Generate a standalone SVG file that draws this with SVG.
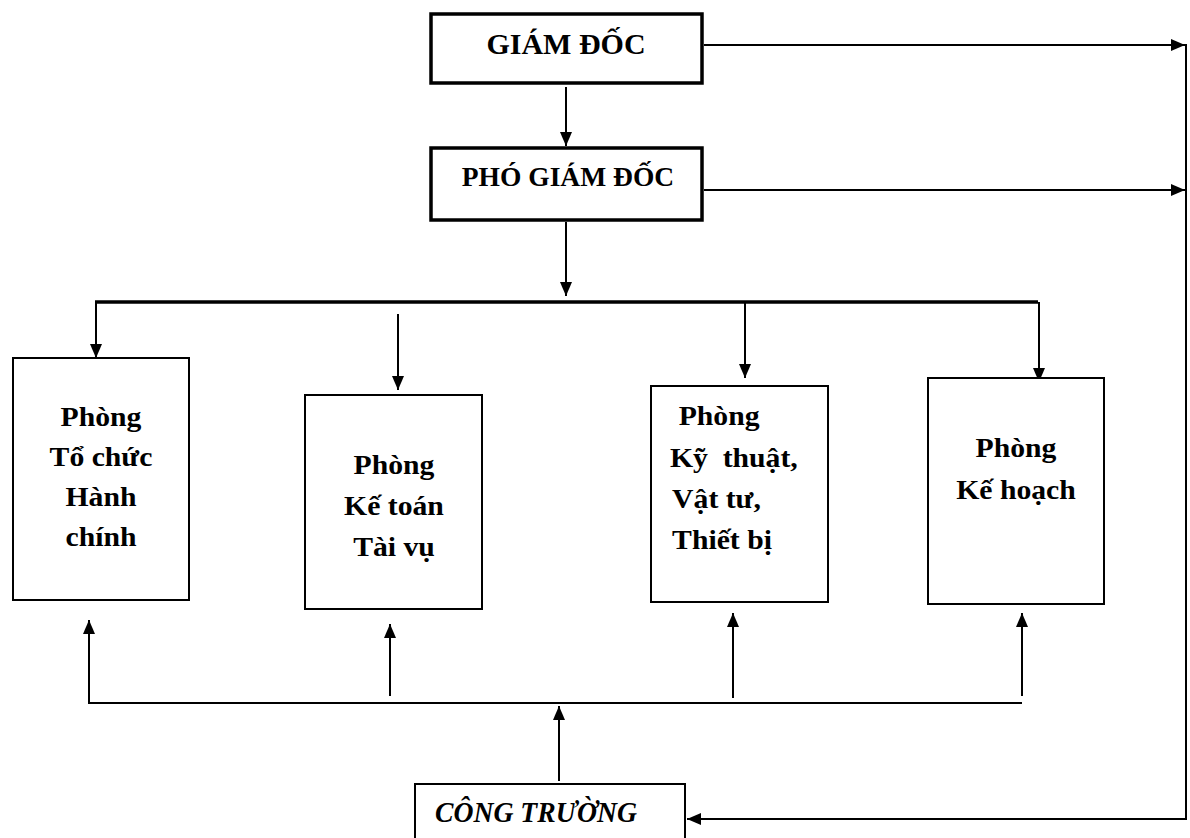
<svg xmlns="http://www.w3.org/2000/svg" width="1190" height="838" viewBox="0 0 1190 838">
<style>
.box{fill:#fff;stroke:#000;stroke-width:2}
.thick{fill:#fff;stroke:#000;stroke-width:3.5}
.t{font-family:"Liberation Serif","Times New Roman",serif;font-weight:bold;font-size:27px;fill:#000}
.c{text-anchor:middle}
.ln{stroke:#000;stroke-width:2;fill:none}
</style>
<defs>
<marker id="ah" markerUnits="userSpaceOnUse" markerWidth="14" markerHeight="14" viewBox="0 0 14 14" refX="14" refY="7" orient="auto">
<path d="M0,1 L14,7 L0,13 Z" fill="#000"/>
</marker>
</defs>
<g id="connectors">
<line class="ln" x1="566" y1="87" x2="566" y2="146" marker-end="url(#ah)"/>
<line class="ln" x1="566" y1="222" x2="566" y2="296" marker-end="url(#ah)"/>
<line x1="95" y1="302" x2="1038" y2="302" stroke="#000" stroke-width="3.5"/>
<line class="ln" x1="96" y1="302" x2="96" y2="358" marker-end="url(#ah)"/>
<line class="ln" x1="398" y1="314" x2="398" y2="390" marker-end="url(#ah)"/>
<line class="ln" x1="745" y1="302" x2="745" y2="378" marker-end="url(#ah)"/>
<line class="ln" x1="1039" y1="302" x2="1039" y2="382" marker-end="url(#ah)"/>
<line class="ln" x1="704" y1="45" x2="1185" y2="45" marker-end="url(#ah)"/>
<line class="ln" x1="704" y1="190" x2="1185" y2="190" marker-end="url(#ah)"/>
<line class="ln" x1="1186" y1="44" x2="1186" y2="820"/>
<line class="ln" x1="1187" y1="819" x2="687" y2="819" marker-end="url(#ah)"/>
<line class="ln" x1="88" y1="703" x2="1022" y2="703"/>
<line class="ln" x1="89" y1="703" x2="89" y2="620" marker-end="url(#ah)"/>
<line class="ln" x1="390" y1="696" x2="390" y2="624" marker-end="url(#ah)"/>
<line class="ln" x1="733" y1="698" x2="733" y2="613" marker-end="url(#ah)"/>
<line class="ln" x1="1022" y1="696" x2="1022" y2="613" marker-end="url(#ah)"/>
<line class="ln" x1="559" y1="781" x2="559" y2="706" marker-end="url(#ah)"/>
</g>
<g id="giam-doc">
<rect class="thick" x="431" y="14" width="271" height="69"/>
<text class="t c" x="566" y="54" style="font-size:30px">GIÁM ĐỐC</text>
</g>
<g id="pho-giam-doc">
<rect class="thick" x="431" y="148" width="271" height="72"/>
<text class="t c" x="568" y="186" style="font-size:27.5px">PHÓ GIÁM ĐỐC</text>
</g>
<g id="to-chuc">
<rect class="box" x="13" y="358" width="176" height="242"/>
<text class="t c" transform="matrix(1.1 0 0 1 -10.1 0)"><tspan x="101" y="426">Phòng</tspan><tspan x="101" y="466">Tổ chức</tspan><tspan x="101" y="506">Hành</tspan><tspan x="101" y="546">chính</tspan></text>
</g>
<g id="ke-toan">
<rect class="box" x="305" y="395" width="177" height="214"/>
<text class="t c" transform="matrix(1.1 0 0 1 -39.4 0)"><tspan x="394" y="474">Phòng</tspan><tspan x="394" y="515">Kế toán</tspan><tspan x="394" y="556">Tài vụ</tspan></text>
</g>
<g id="ky-thuat">
<rect class="box" x="651" y="386" width="177" height="216"/>
<text class="t" xml:space="preserve" transform="matrix(1.1 0 0 1 -67.1 0)"><tspan x="678" y="425">Phòng</tspan><tspan x="670" y="467">Kỹ  thuật,</tspan><tspan x="672" y="508">Vật tư,</tspan><tspan x="672" y="549">Thiết bị</tspan></text>
</g>
<g id="ke-hoach">
<rect class="box" x="928" y="378" width="176" height="226"/>
<text class="t c" transform="matrix(1.1 0 0 1 -101.6 0)"><tspan x="1016" y="457">Phòng</tspan><tspan x="1016" y="499">Kế hoạch</tspan></text>
</g>
<g id="cong-truong">
<rect class="box" x="415" y="784" width="270" height="60"/>
<text class="t" x="435" y="822" style="font-style:italic;font-size:29px" textLength="202" lengthAdjust="spacingAndGlyphs">CÔNG TRƯỜNG</text>
</g>
</svg>
